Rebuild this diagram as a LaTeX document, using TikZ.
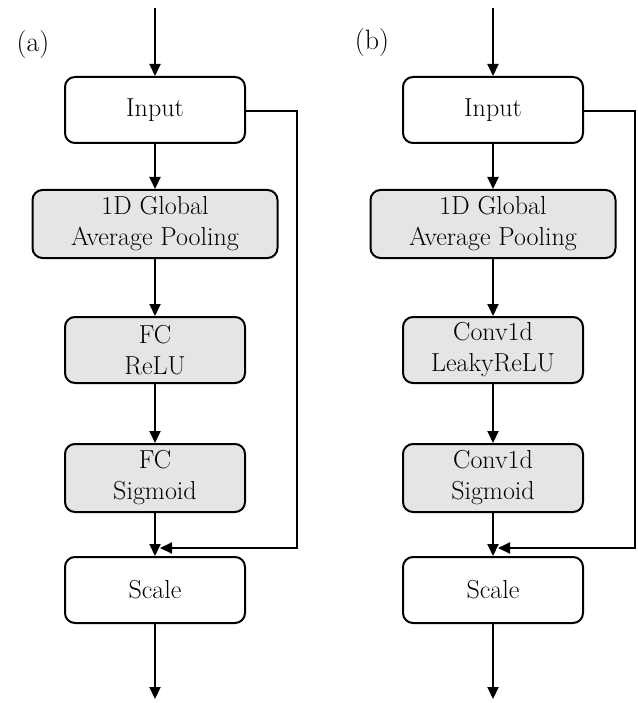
\documentclass[tikz,border=0pt]{standalone}
\usepackage{fontspec}
\setmainfont{Latin Modern Roman}
\usetikzlibrary{arrows.meta}
\begin{document}
\begin{tikzpicture}[x=1pt,y=-1pt,
  box/.style={draw,line width=2pt,rounded corners=10pt,minimum height=66pt,align=center,
    font=\fontsize{26}{31}\selectfont,inner sep=0pt},
  narrow/.style={box,minimum width=180pt},
  wide/.style={box,minimum width=245pt},
  grey/.style={fill=black!10},
  conn/.style={line width=2pt,-{Triangle[length=12pt,width=11pt]}},
  lab/.style={font=\fontsize{28}{32}\selectfont}]
\useasboundingbox (0,0) rectangle (637,703);
% panel (a)
\node[lab] (la) at (33,45) {(a)};
\node[narrow] (ain) at (155,110) {Input};
\node[wide,grey,minimum height=68pt] (agap) at (155,224) {1D Global\\Average Pooling};
\node[narrow,grey] (afc1) at (155,350) {FC\\ReLU};
\node[narrow,grey,minimum height=68pt] (afc2) at (155,478) {FC\\Sigmoid};
\node[narrow] (asc) at (155,590) {Scale};
\coordinate (atop) at (155,8);
\coordinate (abot) at (155,699);
\coordinate (ar1) at (297,111);
\coordinate (ar2) at (297,548);
\coordinate (ar3) at (160,548);
\draw[conn] (atop) -- (ain);
\draw[conn] (ain) -- (agap);
\draw[conn] (agap) -- (afc1);
\draw[conn] (afc1) -- (afc2);
\draw[conn] (afc2) -- (asc);
\draw[conn] (asc) -- (abot);
\draw[conn] (ain.east |- ar1) -- (ar1) -- (ar2) -- (ar3);
% panel (b)
\node[lab] (lb) at (372,43) {(b)};
\node[narrow] (bin) at (493,110) {Input};
\node[wide,grey,minimum height=68pt] (bgap) at (493,224) {1D Global\\Average Pooling};
\node[narrow,grey] (bfc1) at (493,350) {Conv1d\\LeakyReLU};
\node[narrow,grey,minimum height=68pt] (bfc2) at (493,478) {Conv1d\\Sigmoid};
\node[narrow] (bsc) at (493,590) {Scale};
\coordinate (btop) at (493,8);
\coordinate (bbot) at (493,699);
\coordinate (br1) at (635,111);
\coordinate (br2) at (635,548);
\coordinate (br3) at (498,548);
\draw[conn] (btop) -- (bin);
\draw[conn] (bin) -- (bgap);
\draw[conn] (bgap) -- (bfc1);
\draw[conn] (bfc1) -- (bfc2);
\draw[conn] (bfc2) -- (bsc);
\draw[conn] (bsc) -- (bbot);
\draw[conn] (bin.east |- br1) -- (br1) -- (br2) -- (br3);
\end{tikzpicture}
\end{document}
